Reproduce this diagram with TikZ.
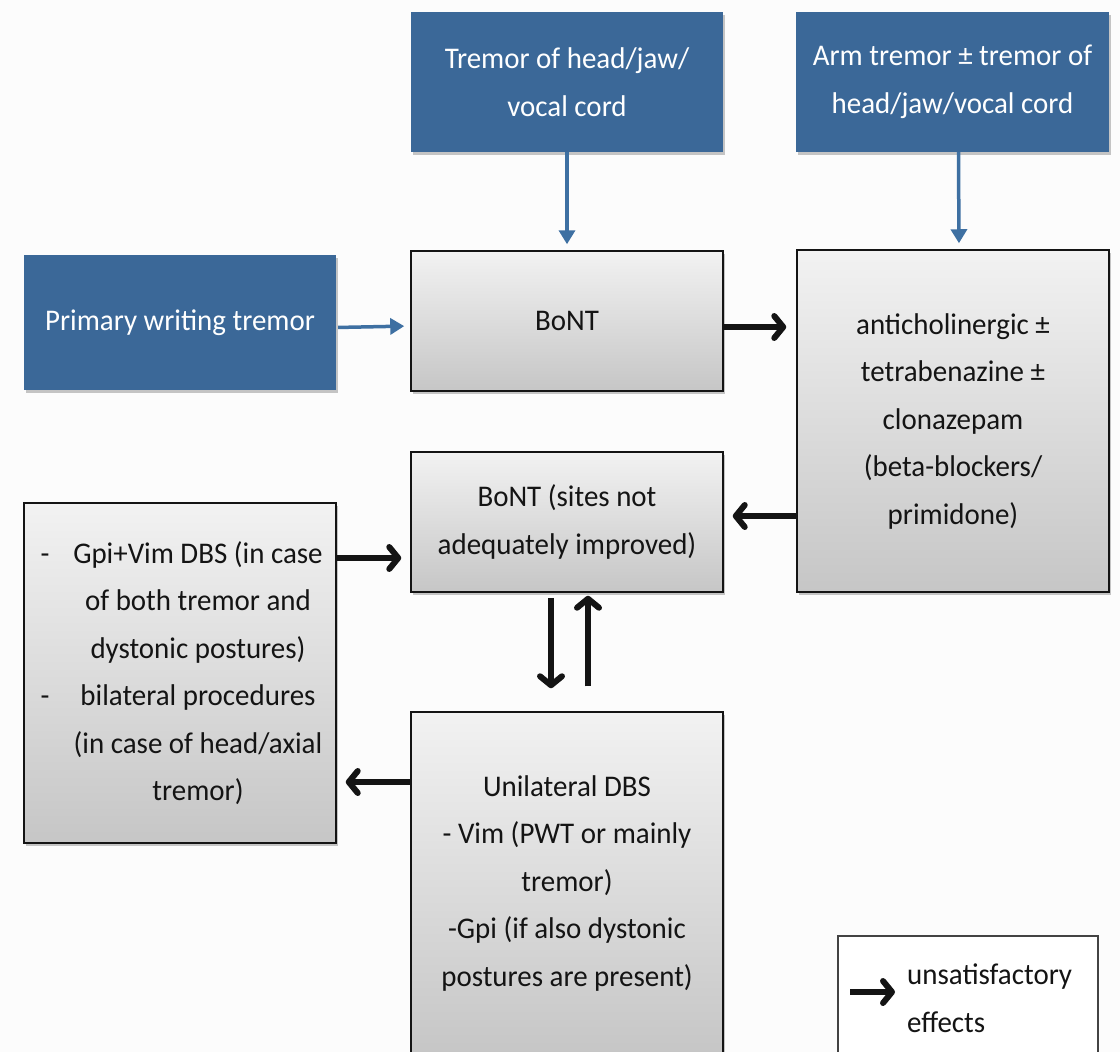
\documentclass[tikz,border=0pt]{standalone}
\usepackage{fontspec}
\setmainfont{Carlito}[FakeStretch=0.965]
\usetikzlibrary{arrows.meta,shadows,calc}

\definecolor{bluebox}{RGB}{59,104,152}
\definecolor{bluearrow}{RGB}{62,112,162}
\definecolor{boxtop}{RGB}{242,242,242}
\definecolor{boxbot}{RGB}{198,198,198}
\definecolor{ink}{RGB}{20,20,20}
\definecolor{paper}{RGB}{252,252,252}

\tikzset{
  x=1pt, y=-1pt,
  every node/.style={font=\fontsize{30}{47.5}\selectfont, inner sep=0pt},
  softshadow/.style={drop shadow={shadow xshift=2pt, shadow yshift=-3pt, opacity=0.22, fill=black}},
  cause/.style={fill=bluebox, text=white, align=center, softshadow},
  therapy/.style={draw=ink, line width=1.5pt, top color=boxtop, bottom color=boxbot,
                  text=ink, align=center, softshadow},
  keybox/.style={draw=ink!80, line width=1.5pt, fill=white},
  feed/.style={bluearrow, line width=3.5pt, -{Triangle[length=14pt,width=16pt]}},
  fail/.style={ink, line width=6pt, -{Straight Barb[length=9pt,width=22pt,line cap=round,line join=round]}},
}

\begin{document}
\begin{tikzpicture}
  % page
  \useasboundingbox[fill=paper] (0,0) rectangle (1120,1052);

  % presenting tremor types
  \node[cause, minimum width=312pt, minimum height=140pt] (headT) at (567,82)
       {Tremor of head/jaw/\\vocal cord};
  \node[cause, minimum width=313pt, minimum height=140pt] (armT) at (952.5,82)
       {Arm tremor ± tremor of\\head/jaw/vocal cord};
  \node[cause, minimum width=312pt, minimum height=135pt] (pwt) at (180,322.5)
       {Primary writing tremor};

  % treatment steps
  \node[therapy, minimum width=312pt, minimum height=140pt] (bont) at (567,321) {BoNT};
  \node[therapy, minimum width=312pt, minimum height=342pt] (drugs) at (953,421)
       {anticholinergic ±\\tetrabenazine ±\\clonazepam\\(beta-blockers/\\primidone)};
  \node[therapy, minimum width=312pt, minimum height=140pt] (bont2) at (567,522)
       {BoNT (sites not\\adequately improved)};
  \node[therapy, minimum width=312pt, minimum height=340pt, align=left] (dbs2) at (180,673)
       {\makebox[36pt]{-}\makebox[270pt]{Gpi+Vim DBS (in case}\\
        \makebox[36pt]{}\makebox[270pt]{of both tremor and}\\
        \makebox[36pt]{}\makebox[270pt]{dystonic postures)}\\
        \makebox[36pt]{-}\makebox[270pt]{bilateral procedures}\\
        \makebox[36pt]{}\makebox[270pt]{(in case of head/axial}\\
        \makebox[36pt]{}\makebox[270pt]{tremor)}};
  \node[therapy, minimum width=312pt, minimum height=342pt] (dbs1) at (567,883)
       {Unilateral DBS\\- Vim (PWT or mainly\\tremor)\\-Gpi (if also dystonic\\postures are present)};

  % key
  \node[keybox, minimum width=260pt, minimum height=124pt] (key) at (968,998) {};
  \node[anchor=west, align=left, text=ink] (keytext) at (907,998) {unsatisfactory\\effects};
  \coordinate (keyA) at (850,992);
  \coordinate (keyB) at (895,992);

  % entry arrows
  \draw[feed, shorten >=6pt] (headT.south) -- (bont.north);
  \draw[feed, shorten >=6pt] ([xshift=6pt]armT.south) -- ([xshift=6pt]drugs.north);
  \draw[feed, shorten <=2pt, shorten >=6pt] ([yshift=-5pt]pwt.east) -- ([yshift=-5pt]bont.west);

  % escalation when effects are unsatisfactory
  \coordinate (r1) at ([yshift=-6pt]bont.east);
  \draw[fail, shorten >=10pt] (r1) -- (drugs.west |- r1);
  \coordinate (r2) at ([yshift=6pt]bont2.east);
  \draw[fail, shorten >=9pt] (drugs.west |- r2) -- (r2);
  \coordinate (r3) at ([yshift=-36pt]bont2.west);
  \draw[fail, shorten >=9pt] (dbs2.east |- r3) -- (r3);
  \coordinate (r4) at ([yshift=-109pt]dbs2.east);
  \draw[fail, shorten >=9pt] (dbs1.west |- r4) -- (r4);
  \draw[fail, shorten <=5pt, shorten >=23pt] ([xshift=-16pt]bont2.south) -- ([xshift=-16pt]dbs1.north);
  \draw[fail, shorten <=25pt, shorten >=3pt] ([xshift=21pt]dbs1.north) -- ([xshift=21pt]bont2.south);
  \draw[fail] (keyA) -- (keyB);
\end{tikzpicture}
\end{document}
